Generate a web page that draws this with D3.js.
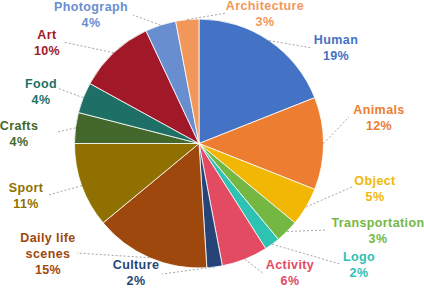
<!DOCTYPE html>
<html>
<head>
<meta charset="utf-8">
<script src="https://cdn.jsdelivr.net/npm/d3@7"></script>
<style>
  body { margin: 0; background: #fff; }
  .slice-label { font-family: "Liberation Sans", Arial, sans-serif; font-weight: bold; font-size: 12.5px; letter-spacing: 0.4px; }
</style>
</head>
<body>
<svg id="pie" width="424" height="288"></svg>
<script>
const categories = ["Human", "Animals", "Object", "Transportation", "Logo", "Activity", "Culture",
  "Daily life scenes", "Sport", "Crafts", "Food", "Art", "Photograph", "Architecture"];
const values = [19, 12, 5, 3, 2, 6, 2, 15, 11, 4, 4, 10, 4, 3];
const colors = ["#4472C4", "#ED7D31", "#F2B705", "#74B843", "#2EC2B3", "#E34B62", "#264478",
  "#9E480E", "#8F7000", "#43682B", "#1E7066", "#A11829", "#698ED0", "#F1975A"];
// label text lines
const labelLines = [["Human"], ["Animals"], ["Object"], ["Transportation"], ["Logo"], ["Activity"],
  ["Culture"], ["Daily life", "scenes"], ["Sport"], ["Crafts"], ["Food"], ["Art"], ["Photograph"], ["Architecture"]];

// layout: label center [x, y of first line], leader line end
const labelPos = [[336, 40], [379, 110], [375, 181], [378, 223], [359, 257], [290, 265], [136, 265],
  [48, 238], [26, 188], [19, 126], [41, 84], [47, 35], [91, 7], [265, 6]];
const lineEnd = [[312, 48], [349, 117], [352, 187], [327, 230], [340, 264], [264, 274], [162, 274],
  [77, 253], [48, 195], [57, 132], [57, 88], [63, 42], [133, 15], [227, 13]];

const svg = d3.select("#pie");
const cx = 199, cy = 143.5, radius = 124.5;

const data = categories.map((c, i) => ({ name: c, value: values[i], i }));

const pie = d3.pie().sort(null).value(d => d.value);
const arcs = pie(data);

const arc = d3.arc().innerRadius(0).outerRadius(radius);
const edgeArc = d3.arc().innerRadius(radius).outerRadius(radius);

const g = svg.append("g").attr("transform", `translate(${cx}, ${cy})`);

g.selectAll("path.slice")
  .data(arcs)
  .enter()
  .append("path")
  .attr("class", "slice")
  .attr("d", arc)
  .attr("fill", d => colors[d.data.i])
  .attr("stroke", "#fff")
  .attr("stroke-width", 0.8);

// leader lines
svg.selectAll("line.leader")
  .data(arcs)
  .enter()
  .append("line")
  .attr("class", "leader")
  .attr("x1", d => cx + edgeArc.centroid(d)[0])
  .attr("y1", d => cy + edgeArc.centroid(d)[1])
  .attr("x2", d => lineEnd[d.data.i][0])
  .attr("y2", d => lineEnd[d.data.i][1])
  .attr("stroke", "#A6A6A6")
  .attr("stroke-width", 1)
  .attr("stroke-dasharray", "2,2");

// labels
const labels = svg.selectAll("text.slice-label")
  .data(arcs)
  .enter()
  .append("text")
  .attr("class", "slice-label")
  .attr("text-anchor", "middle")
  .attr("fill", d => colors[d.data.i])
  .attr("x", d => labelPos[d.data.i][0])
  .attr("y", d => labelPos[d.data.i][1] + 4);

labels.each(function(d) {
  const t = d3.select(this);
  const lines = labelLines[d.data.i].concat([d.data.value + "%"]);
  lines.forEach((l, k) => {
    t.append("tspan")
      .attr("x", labelPos[d.data.i][0])
      .attr("dy", k === 0 ? 0 : 16)
      .text(l);
  });
});
</script>
</body>
</html>
